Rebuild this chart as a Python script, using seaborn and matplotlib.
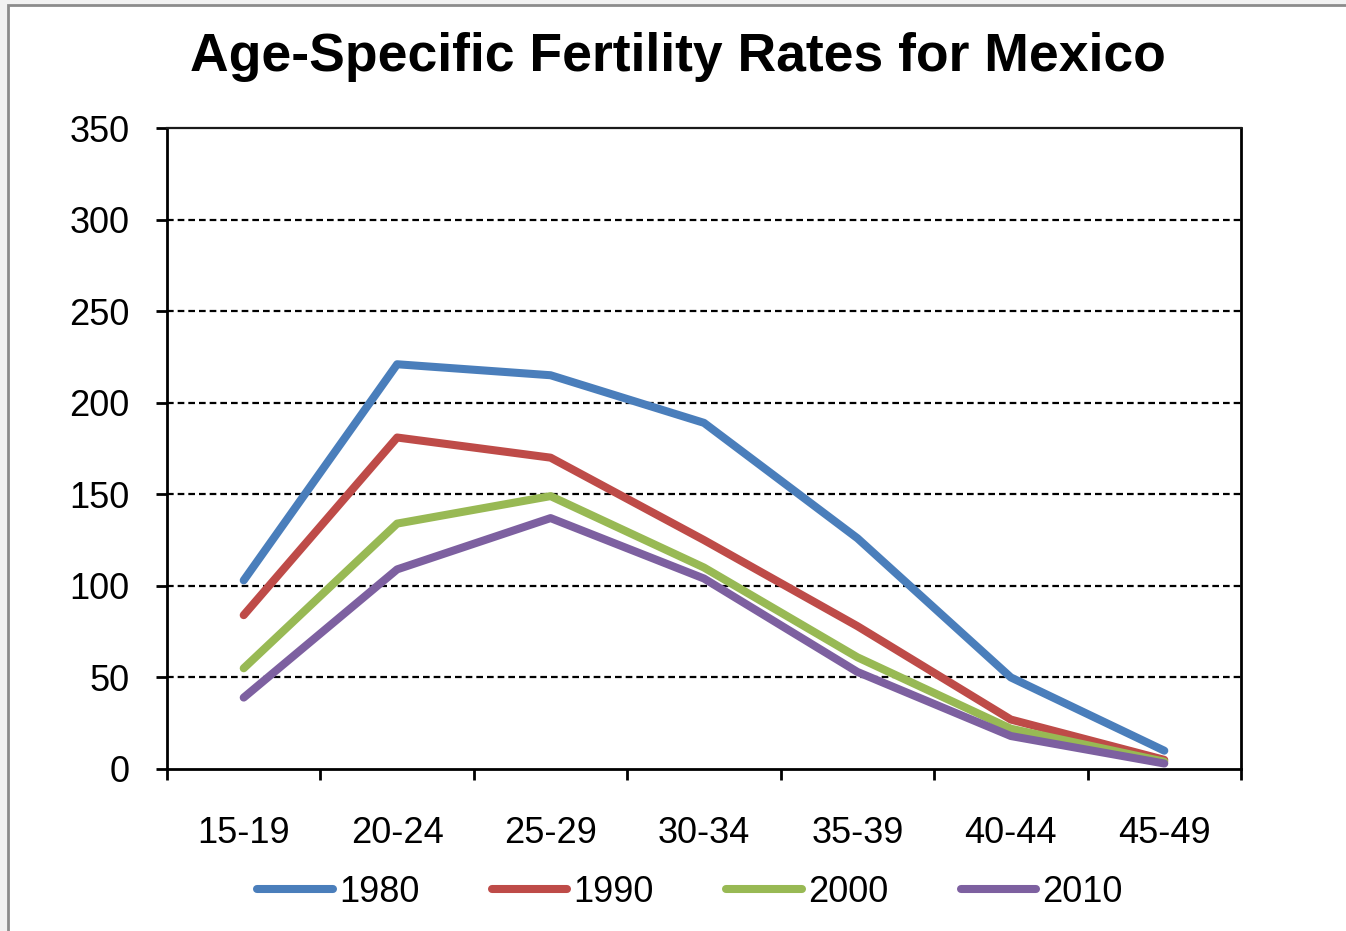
import matplotlib
matplotlib.use("Agg")
import matplotlib.pyplot as plt
import matplotlib.patches as mpatches
import numpy as np
import pandas as pd
import seaborn as sns

# Age groups and age-specific fertility rates (births per 1,000 women)
age_groups = ["15-19", "20-24", "25-29", "30-34", "35-39", "40-44", "45-49"]
rates_1980 = [103, 221, 215, 189, 126, 50, 10]
rates_1990 = [84, 181, 170, 125, 78, 27, 5]
rates_2000 = [55, 134, 149, 110, 61, 22, 4]
rates_2010 = [39, 109, 137, 104, 53, 18, 3]
years = ["1980", "1990", "2000", "2010"]
colors = ["#4A7EBB", "#BE4B48", "#98B954", "#7D60A0"]
y_ticks = [0, 50, 100, 150, 200, 250, 300, 350]

sns.set_theme(style="white")
plt.rcParams["font.family"] = ["Liberation Sans", "DejaVu Sans"]
plt.rcParams["text.color"] = "black"
plt.rcParams["xtick.color"] = "black"
plt.rcParams["ytick.color"] = "black"

frames = []
for yr, vals in zip(years, [rates_1980, rates_1990, rates_2000, rates_2010]):
    frames.append(pd.DataFrame({"pos": np.arange(len(age_groups)), "rate": vals, "year": yr}))
df = pd.concat(frames, ignore_index=True)

fig = plt.figure(figsize=(13.46, 9.31), dpi=100)
fig.patch.set_facecolor("#f2f2f2")
# white chart area with grey frame
fig.patches.append(mpatches.Rectangle((8 / 1346, -0.05), 1.2, 1 - 5 / 931 + 0.05,
                                      transform=fig.transFigure, facecolor="white",
                                      edgecolor="#8c8c8c", linewidth=2, zorder=-5))

ax = fig.add_axes([167 / 1346, 1 - 769 / 931, (1241 - 167) / 1346, (769 - 128) / 931])
ax.set_facecolor("white")

sns.lineplot(data=df, x="pos", y="rate", hue="year", palette=colors, linewidth=5.8,
             ax=ax, legend=False, solid_capstyle="round", solid_joinstyle="round")

ax.set_xlim(-0.5, len(age_groups) - 0.5)
ax.set_ylim(0, 350)
ax.set_yticks(y_ticks)
ax.set_yticklabels([str(v) for v in y_ticks], fontsize=26)
ax.set_xticks(np.arange(-0.5, len(age_groups)), minor=False)
ax.set_xticklabels([])
ax.set_xticks(np.arange(len(age_groups)), minor=True)
ax.set_xticklabels(age_groups, minor=True, fontsize=26)
for lbl in ax.get_xticklabels(minor=True):
    lbl.set_x(lbl.get_position()[0])
ax.tick_params(axis="x", which="major", direction="out", length=8, width=2, color="black", bottom=True)
ax.tick_params(axis="x", which="minor", length=0, pad=34)
ax.tick_params(axis="y", direction="out", length=8, width=2, color="black", left=True, pad=19)

for v in y_ticks[1:-1]:
    ax.axhline(v, color="black", linestyle=(0, (3, 1.8)), linewidth=1.6, zorder=0.5)

for side in ["left", "bottom", "right"]:
    ax.spines[side].set_visible(True)
    ax.spines[side].set_color("black")
    ax.spines[side].set_linewidth(2)
ax.spines["top"].set_visible(True)
ax.spines["top"].set_color("#1a1a1a")
ax.spines["top"].set_linewidth(1.6)
ax.set_xlabel("")
ax.set_ylabel("")

handles = [plt.Line2D([], [], color=c, linewidth=5.8, solid_capstyle="round") for c in colors]
fig.legend(handles, years, loc="center", bbox_to_anchor=(690 / 1346, 1 - 892 / 931),
           ncol=4, frameon=False, fontsize=26, handlelength=2.1, handletextpad=0.17,
           columnspacing=2.0)

fig.text(678 / 1346, 1 - 57 / 931, "Age-Specific Fertility Rates for Mexico",
         ha="center", va="center", fontsize=38.5, fontweight="bold")

fig.savefig("out.png", dpi=100)
